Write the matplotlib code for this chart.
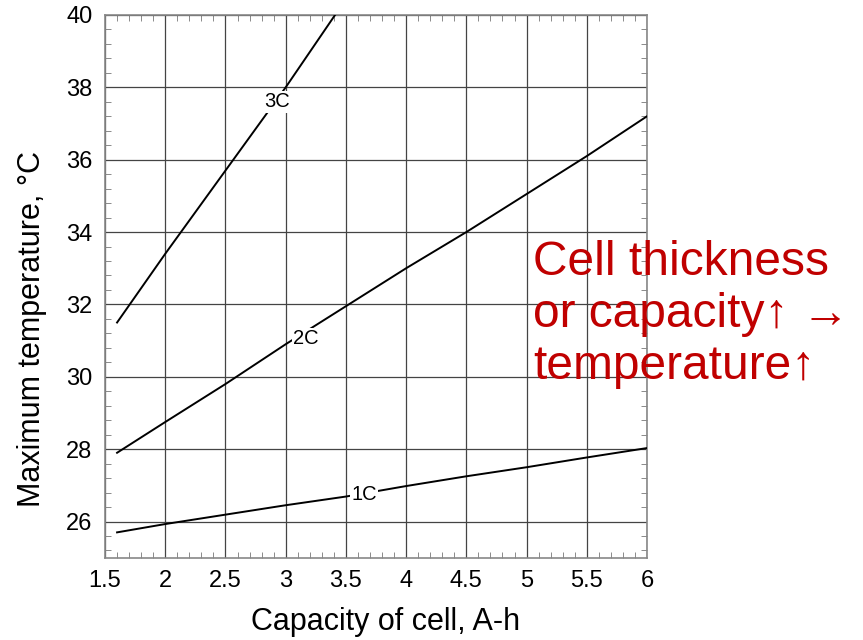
import matplotlib
matplotlib.use("Agg")
import matplotlib.pyplot as plt
from matplotlib.ticker import MultipleLocator

plt.rcParams['font.family'] = ['Liberation Sans', 'DejaVu Sans']

# values
cap = [1.6, 2.0, 2.5, 3.0, 3.5, 4.0, 4.5, 5.0, 5.5, 6.0]
t_1c = [25.7, 25.93, 26.19, 26.45, 26.69, 26.98, 27.25, 27.5, 27.77, 28.03]
t_2c = [27.9, 28.75, 29.8, 30.9, 31.95, 33.0, 34.0, 35.05, 36.1, 37.2]
cap_3c = [1.6, 2.0, 2.5, 3.0, 3.41]
t_3c = [31.5, 33.4, 35.7, 38.0, 40.0]

labels = ["1C", "2C", "3C"]
label_pos = [(3.65, 26.75), (3.17, 31.05), (2.93, 37.6)]

fig = plt.figure(figsize=(8.63, 6.4), dpi=100)
ax = fig.add_axes([0.1217, 0.1286, 0.628, 0.848])

ax.plot(cap, t_1c, color="black", lw=1.4, zorder=3)
ax.plot(cap, t_2c, color="black", lw=1.4, zorder=3)
ax.plot(cap_3c, t_3c, color="black", lw=1.4, zorder=3)

for lab, (x, y) in zip(labels, label_pos):
    ax.text(x, y, lab, fontsize=14.5, ha="center", va="center", zorder=4,
            bbox=dict(facecolor="white", edgecolor="none", pad=1.0))

ax.set_xlim(1.5, 6)
ax.set_ylim(25, 40)
ax.xaxis.set_minor_locator(MultipleLocator(0.1))
ax.yaxis.set_minor_locator(MultipleLocator(0.4))
ax.set_xticks([1.5, 2, 2.5, 3, 3.5, 4, 4.5, 5, 5.5, 6])
ax.set_xticklabels(["1.5", "2", "2.5", "3", "3.5", "4", "4.5", "5", "5.5", "6"])
ax.set_yticks([26, 28, 30, 32, 34, 36, 38, 40])

ax.grid(True, which="major", color="#444444", lw=0.9)
ax.tick_params(which="both", direction="in", top=True, right=True,
               color="#777777", labelsize=17)
ax.tick_params(which="major", length=0, pad=9)
ax.tick_params(which="minor", length=4)
for s in ax.spines.values():
    s.set_color("#888888")
    s.set_linewidth(1.2)

ax.set_xlabel("Capacity of cell, A-h", fontsize=22)
ax.set_ylabel("Maximum temperature, °C", fontsize=22)
ax.xaxis.set_label_coords(0.517, -0.091)
ax.yaxis.set_label_coords(-0.107, 0.422)

fig.text(0.618, 0.508, "Cell thickness\nor capacity\u2191 \u2192\ntemperature\u2191",
         color="#C00000", fontsize=34.5, ha="left", va="center", linespacing=1.2,
         family=['Liberation Sans', 'DejaVu Sans'])

fig.savefig("out.png", dpi=100)
